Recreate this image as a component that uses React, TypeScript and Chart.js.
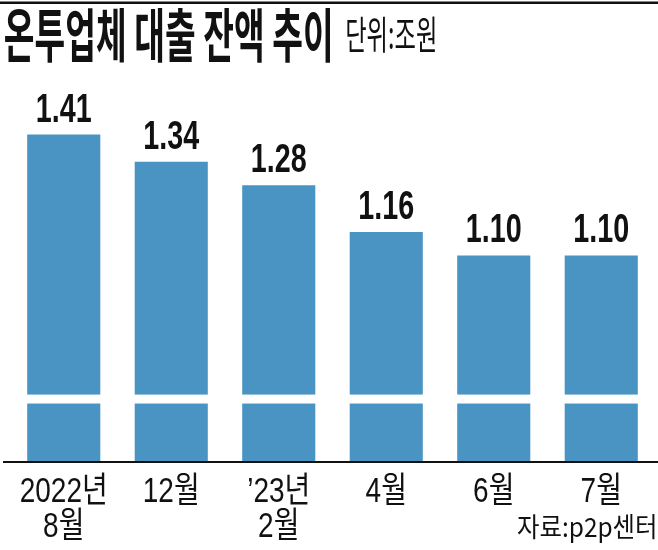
import React, { useEffect, useRef } from "react";
import { Chart, registerables } from "chart.js";

Chart.register(...registerables);

const categories: string[][] = [["2022년", "8월"], ["12월"], ["’23년", "2월"], ["4월"], ["6월"], ["7월"]];
const values: number[] = [1.41, 1.34, 1.28, 1.16, 1.1, 1.1];
const yRange: number[] = [0.57, 1.55];
const breakRange: number[] = [0.72, 0.743];
const titleText = "온투업체 대출 잔액 추이";
const unitText = "단위:조원";
const sourceText = "자료:p2p센터";

const BAR_COLOR = "#4a94c4";

function drawScaled(ctx: CanvasRenderingContext2D, text: string, x: number, y: number, font: string, sx: number, align: CanvasTextAlign) {
  ctx.save();
  ctx.translate(x, y);
  ctx.scale(sx, 1);
  ctx.font = font;
  ctx.textAlign = align;
  ctx.textBaseline = "alphabetic";
  ctx.fillText(text, 0, 0);
  ctx.restore();
}

// draw text with given font, left ink edge at `left`, baseline at `baseline`, squeezed to ink width W
function drawFitW(ctx: CanvasRenderingContext2D, text: string, font: string, left: number, baseline: number, W: number) {
  ctx.save();
  ctx.font = font;
  ctx.textAlign = "left";
  ctx.textBaseline = "alphabetic";
  const m = ctx.measureText(text);
  const inkW = m.actualBoundingBoxLeft + m.actualBoundingBoxRight;
  const sx = W / inkW;
  ctx.translate(left, baseline);
  ctx.scale(sx, 1);
  ctx.fillText(text, m.actualBoundingBoxLeft, 0);
  ctx.restore();
}

const decorPlugin = {
  id: "decor",
  afterDatasetsDraw(chart: any) {
    const { ctx, chartArea, scales } = chart;
    const y = scales.y;
    const yTop = y.getPixelForValue(breakRange[1]);
    const yBot = y.getPixelForValue(breakRange[0]);
    ctx.save();
    ctx.fillStyle = "#ffffff";
    ctx.fillRect(chartArea.left, yTop, chartArea.width, yBot - yTop);
    ctx.fillStyle = "#111111";
    ctx.fillRect(3, chartArea.bottom - 1, chart.width - 3, 2);
    ctx.fillRect(0, 1.5, chart.width, 2.5);
    const meta = chart.getDatasetMeta(0);
    meta.data.forEach((bar: any, i: number) => {
      drawScaled(ctx, values[i].toFixed(2), bar.x, bar.y - 13, 'bold 41px "Liberation Sans"', 0.7, "center");
      const lines = categories[i];
      lines.forEach((ln, j) => {
        drawScaled(ctx, ln, bar.x, chartArea.bottom + 40 + j * 35, '35px "Liberation Sans", "Noto Sans CJK KR"', 0.8, "center");
      });
    });
    drawFitW(ctx, titleText, 'bold 58px "Noto Sans CJK KR"', 5, 57, 325);
    drawFitW(ctx, unitText, '39px "Noto Sans CJK KR"', 347, 49, 88);
    drawFitW(ctx, sourceText, '27px "Noto Sans CJK KR"', 517, 537, 138);
    ctx.restore();
  },
};

export default function App() {
  const ref = useRef<HTMLCanvasElement>(null);
  useEffect(() => {
    if (!ref.current) return;
    const chart = new Chart(ref.current, {
      type: "bar",
      data: {
        labels: categories.map((c) => c.join(" ")),
        datasets: [
          {
            data: values,
            backgroundColor: BAR_COLOR,
            borderWidth: 0,
            barPercentage: 0.68,
            categoryPercentage: 1,
          },
        ],
      },
      options: {
        responsive: false,
        animation: false,
        devicePixelRatio: 1,
        layout: { padding: { left: 10, right: 3, top: 80, bottom: 88 } },
        scales: {
          x: { display: false },
          y: { display: false, min: yRange[0], max: yRange[1] },
        },
        plugins: { legend: { display: false }, tooltip: { enabled: false }, title: { display: false } },
      },
      plugins: [decorPlugin],
    });
    return () => chart.destroy();
  }, []);
  return (
    <div style={{ position: "absolute", left: 0, top: 0, width: 658, height: 550, background: "#fff" }}>
      <canvas ref={ref} width={658} height={550} style={{ width: 658, height: 550, display: "block" }} />
    </div>
  );
}
